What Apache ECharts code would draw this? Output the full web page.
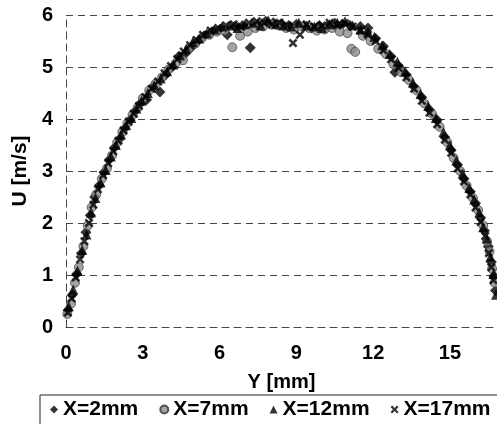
<!DOCTYPE html>
<html>
<head>
<meta charset="utf-8">
<script src="https://cdn.jsdelivr.net/npm/echarts@6/dist/echarts.min.js"></script>
<style>html,body{margin:0;padding:0;background:#fff}#c{width:497px;height:424px}</style>
</head>
<body>
<div id="c"></div>
<script>
const seriesNames = ['X=2mm', 'X=7mm', 'X=12mm', 'X=17mm'];
const xTicks = [0, 3, 6, 9, 12, 15];
const yTicks = [0, 1, 2, 3, 4, 5, 6];

const dataX2 = [[0.08,0.32],[0.25,0.62],[0.42,1.02],[0.6,1.42],[0.78,1.82],[0.95,2.15],[1.12,2.5],[1.3,2.72],[1.5,2.98],[1.7,3.22],[1.9,3.45],[2.1,3.62],[2.3,3.82],[2.5,3.98],[2.7,4.15],[2.9,4.3],[3.15,4.37],[3.4,4.62],[3.67,4.52],[3.9,4.85],[4.15,5.0],[4.4,5.2],[4.65,5.25],[4.9,5.38],[5.15,5.5],[5.4,5.6],[5.7,5.68],[6.0,5.72],[6.3,5.62],[6.6,5.78],[6.9,5.8],[7.2,5.37],[7.5,5.82],[7.8,5.88],[8.1,5.85],[8.4,5.83],[8.7,5.8],[9.0,5.82],[9.3,5.78],[9.6,5.75],[9.9,5.8],[10.2,5.78],[10.5,5.84],[10.8,5.82],[11.1,5.8],[11.5,5.78],[11.8,5.75],[12.1,5.55],[12.4,5.4],[12.7,5.2],[12.85,4.9],[13.0,5.02],[13.3,4.85],[13.6,4.62],[13.9,4.42],[14.2,4.18],[14.5,3.98],[14.8,3.65],[15.05,3.4],[15.3,3.12],[15.55,2.85],[15.8,2.6],[16.0,2.38],[16.2,2.1],[16.35,1.85],[16.5,1.55],[16.62,1.25],[16.72,0.98],[16.78,0.7]];
const dataX7 = [[0.05,0.25],[0.2,0.45],[0.35,0.85],[0.5,1.15],[0.68,1.55],[0.85,1.95],[1.0,2.3],[1.18,2.55],[1.4,2.85],[1.6,3.05],[1.8,3.3],[2.0,3.55],[2.2,3.75],[2.4,3.92],[2.6,4.08],[2.8,4.22],[3.0,4.4],[3.25,4.55],[3.5,4.68],[3.75,4.8],[4.0,4.95],[4.3,5.08],[4.57,5.13],[4.8,5.35],[5.05,5.45],[5.3,5.55],[5.6,5.62],[5.9,5.68],[6.2,5.7],[6.5,5.38],[6.8,5.6],[7.1,5.68],[7.4,5.75],[7.7,5.78],[8.0,5.82],[8.3,5.8],[8.6,5.75],[8.9,5.72],[9.2,5.78],[9.5,5.75],[9.8,5.7],[10.1,5.72],[10.4,5.75],[10.7,5.68],[11.0,5.65],[11.15,5.35],[11.3,5.29],[11.6,5.6],[11.9,5.5],[12.2,5.35],[12.5,5.25],[12.8,5.05],[13.1,4.9],[13.4,4.75],[13.7,4.55],[14.0,4.3],[14.3,4.1],[14.6,3.85],[14.9,3.55],[15.15,3.25],[15.4,3.0],[15.65,2.72],[15.9,2.48],[16.1,2.25],[16.3,1.95],[16.45,1.65],[16.55,1.45],[16.65,1.12],[16.75,0.85]];
const dataX12 = [[0.1,0.4],[0.28,0.72],[0.45,1.08],[0.63,1.48],[0.8,1.78],[0.98,2.2],[1.15,2.48],[1.35,2.78],[1.55,3.02],[1.75,3.28],[1.95,3.5],[2.15,3.7],[2.35,3.88],[2.55,4.02],[2.75,4.2],[2.95,4.35],[3.2,4.5],[3.45,4.65],[3.7,4.78],[3.95,4.92],[4.2,5.05],[4.45,5.22],[4.7,5.35],[4.95,5.48],[5.2,5.55],[5.5,5.65],[5.8,5.72],[6.1,5.78],[6.4,5.8],[6.7,5.75],[7.0,5.82],[7.3,5.85],[7.6,5.8],[7.9,5.9],[8.2,5.82],[8.5,5.8],[8.8,5.78],[9.1,5.85],[9.4,5.8],[9.7,5.78],[10.0,5.75],[10.3,5.82],[10.6,5.85],[10.9,5.88],[11.2,5.8],[11.5,5.72],[11.8,5.68],[12.05,5.58],[12.35,5.42],[12.65,5.25],[12.95,5.1],[13.25,4.92],[13.55,4.7],[13.85,4.48],[14.15,4.25],[14.45,4.02],[14.75,3.75],[15.0,3.5],[15.25,3.2],[15.5,2.95],[15.75,2.68],[15.95,2.45],[16.15,2.2],[16.3,1.92],[16.45,1.7],[16.58,1.35],[16.7,1.02],[16.8,0.62]];
const dataX17 = [[0.07,0.28],[0.22,0.55],[0.38,0.95],[0.55,1.3],[0.72,1.65],[0.9,2.0],[1.07,2.35],[1.25,2.65],[1.45,2.92],[1.65,3.15],[1.85,3.38],[2.05,3.58],[2.25,3.78],[2.45,3.95],[2.65,4.1],[2.85,4.25],[3.1,4.42],[3.35,4.58],[3.6,4.72],[3.85,4.88],[4.1,5.02],[4.35,5.15],[4.6,5.3],[4.85,5.42],[5.1,5.52],[5.35,5.62],[5.65,5.7],[5.95,5.75],[6.25,5.8],[6.55,5.82],[6.85,5.78],[7.15,5.85],[7.45,5.88],[7.75,5.85],[8.05,5.82],[8.35,5.85],[8.65,5.8],[8.87,5.46],[9.14,5.62],[9.4,5.82],[9.7,5.78],[10.0,5.8],[10.3,5.85],[10.6,5.8],[10.9,5.84],[11.2,5.78],[11.5,5.7],[11.8,5.62],[12.1,5.5],[12.4,5.32],[12.7,5.15],[13.0,4.98],[13.3,4.8],[13.6,4.58],[13.9,4.35],[14.2,4.12],[14.5,3.9],[14.8,3.6],[15.05,3.35],[15.3,3.05],[15.55,2.8],[15.8,2.55],[16.0,2.3],[16.2,2.02],[16.38,1.75],[16.52,1.42],[16.62,1.15],[16.7,0.9]];

const FONT = "'Liberation Sans', Arial, sans-serif";
const crossPath = 'path://M2,0 L5,3 L8,0 L10,2 L7,5 L10,8 L8,10 L5,7 L2,10 L0,8 L3,5 L0,2 Z';
const chart = echarts.init(document.getElementById('c'), null, {renderer: 'canvas'});
const gridLine = {show: true, lineStyle: {color: '#444', width: 1, type: [7, 5]}};
chart.setOption({
  animation: false,
  backgroundColor: '#fff',
  grid: {left: 66, right: 0, top: 15, bottom: 97, containLabel: false, outerBoundsMode: 'none'},
  xAxis: {
    type: 'value', min: 0, max: 16.84, interval: 3,
    name: 'Y [mm]', nameLocation: 'middle', nameGap: 45,
    nameTextStyle: {fontFamily: FONT, fontSize: 20, fontWeight: 'bold', color: '#000'},
    axisLine: {show: true, lineStyle: {color: '#444', type: [7, 5]}},
    axisTick: {show: false},
    splitLine: {show: false},
    axisLabel: {showMaxLabel: false, margin: 16, fontFamily: FONT, fontSize: 20, fontWeight: 'bold', color: '#000',
      formatter: v => xTicks.includes(v) ? String(v) : ''}
  },
  yAxis: {
    type: 'value', min: 0, max: 6, interval: 1,
    name: 'U [m/s]', nameLocation: 'middle', nameGap: 34,
    nameTextStyle: {fontFamily: FONT, fontSize: 21, fontWeight: 'bold', color: '#000'},
    axisLine: {show: true, lineStyle: {color: '#444', type: [7, 5]}},
    axisTick: {show: false},
    splitLine: gridLine,
    axisLabel: {margin: 13, fontFamily: FONT, fontSize: 20, fontWeight: 'bold', color: '#000',
      formatter: v => yTicks.includes(v) ? String(v) : ''}
  },
  legend: {
    left: 40, top: 395, width: 700,
    padding: [4, 10, 5, 10],
    borderColor: '#222', borderWidth: 1,
    itemWidth: 8, itemHeight: 8, itemGap: 21,
    textStyle: {fontFamily: FONT, fontSize: 21, fontWeight: 'bold', color: '#000'},
    data: [
      {name: seriesNames[0], icon: 'diamond'},
      {name: seriesNames[1], icon: 'circle'},
      {name: seriesNames[2], icon: 'triangle'},
      {name: seriesNames[3], icon: crossPath}
    ]
  },
  series: [
    {name: seriesNames[0], type: 'scatter', symbol: 'diamond', symbolSize: 11, itemStyle: {color: '#000'}, data: dataX2},
    {name: seriesNames[1], type: 'scatter', symbol: 'circle', symbolSize: 9, itemStyle: {color: '#8c8c8c', borderColor: '#333', borderWidth: 0.8}, data: dataX7},
    {name: seriesNames[2], type: 'scatter', symbol: 'triangle', symbolSize: 10, itemStyle: {color: '#000'}, data: dataX12},
    {name: seriesNames[3], type: 'scatter', symbol: crossPath, symbolSize: 9, itemStyle: {color: '#000'}, data: dataX17}
  ]
});
</script>
</body>
</html>
